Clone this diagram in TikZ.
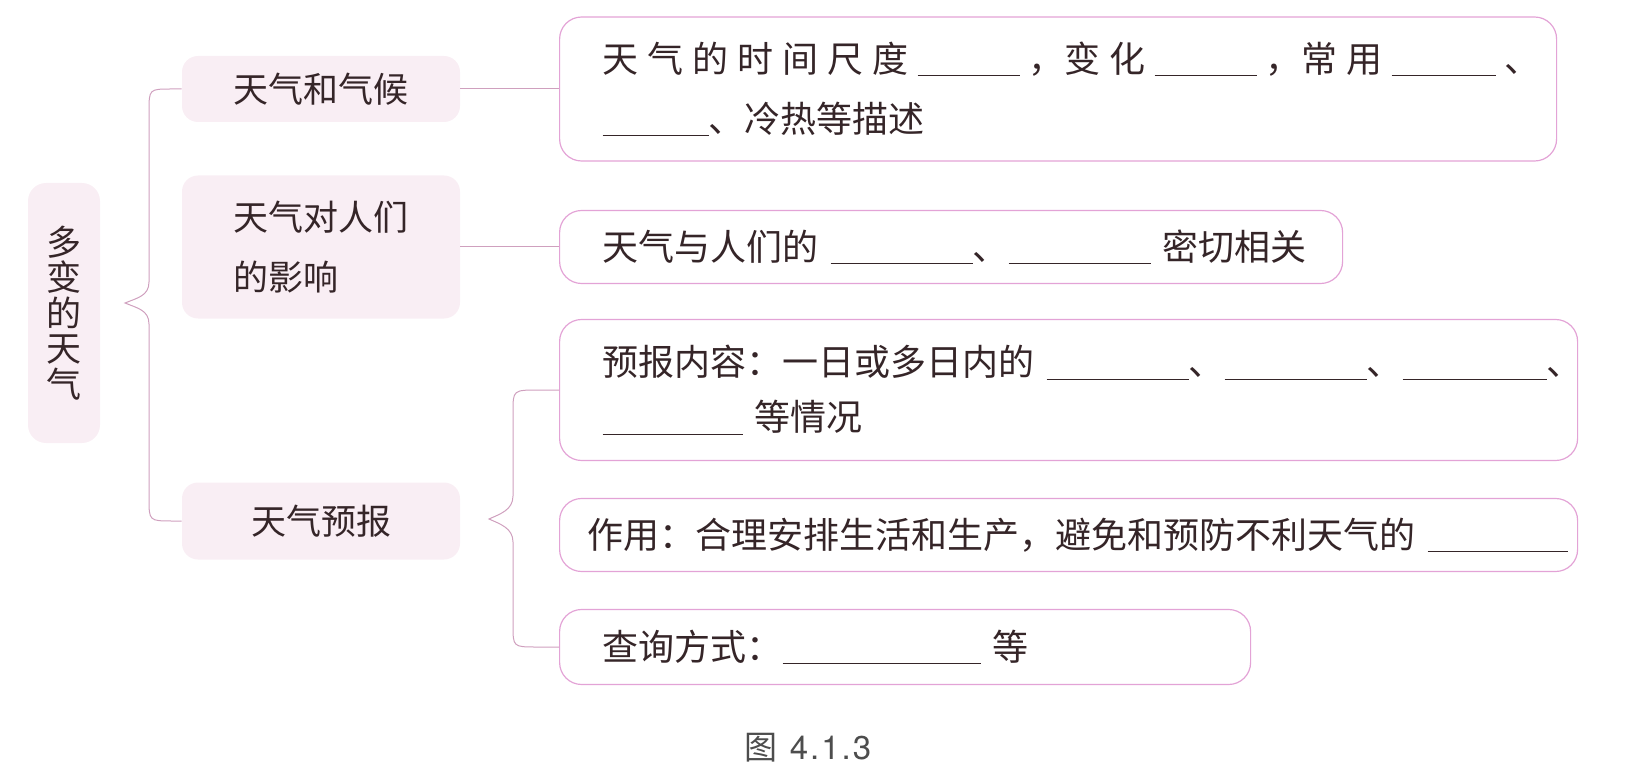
\documentclass[tikz,border=0pt]{standalone}
\usepackage{fontspec}
\setmainfont{Noto Sans CJK SC}
\newfontfamily\capdigits[LetterSpace=6]{TeX Gyre Heros}
\usepackage{tikz}
\definecolor{ink}{HTML}{352528}
\definecolor{rim}{HTML}{E3A3D6}
\definecolor{wirecol}{HTML}{CFA0BE}
\definecolor{shade}{HTML}{F9EEF4}
\definecolor{capgray}{HTML}{4D4D4D}
\newcommand\blank[1]{\rule[-2pt]{#1}{0.5pt}}
\tikzset{
  rootbox/.style={fill=shade, rounded corners=9pt, minimum width=36pt, minimum height=130pt, inner sep=0pt, align=center, text=ink, font=\fontsize{17.5pt}{17.7pt}\selectfont},
  topic/.style={fill=shade, rounded corners=8pt, minimum width=139pt, inner sep=0pt, align=left, text=ink, font=\fontsize{17.5pt}{30pt}\selectfont},
  leaf/.style={draw=rim, line width=0.6pt, rounded corners=11pt, anchor=west, inner xsep=21.5pt, inner ysep=0pt, align=left, text=ink, font=\fontsize{18pt}{29pt}\selectfont},
  wire/.style={draw=wirecol, line width=0.5pt},
  figcap/.style={text=capgray, font=\fontsize{16.5pt}{18pt}\selectfont},
}
\begin{document}
\begin{tikzpicture}[x=0.5pt,y=-0.5pt]
  \useasboundingbox (0,0) rectangle (1638,775);
  % root and topics
  \node[rootbox] (root) at (64,313) {多\\变\\的\\天\\气};
  \node[topic, minimum height=33pt] (t1) at (321,89) {天气和气候};
  \node[topic, minimum height=71.5pt] (t2) at (321,247) {天气对人们\\的影响};
  \node[topic, minimum height=38.5pt] (t3) at (321,521) {天气预报};
  % leaves
  \node[leaf, minimum height=72pt, text width=455.5pt, font=\fontsize{18pt}{30pt}\selectfont] (b1) at (559,89)
    {\mbox{\makebox[469pt][l]{天\hfill 气\hfill 的\hfill 时\hfill 间\hfill 尺\hfill 度\hfill\blank{51pt}\hfill ，变\hfill 化\hfill\blank{51pt}\hfill ，常\hfill 用\hfill\blank{52pt}\hfill 、}}\\
     \mbox{\blank{53pt}、冷热等描述}};
  \node[leaf, minimum height=36.5pt, text width=348.5pt] (b2) at (559,247)
    {\mbox{天气与人们的 \blank{71pt}、\blank{71pt} 密切相关}};
  \node[leaf, minimum height=70.5pt, text width=466pt, font=\fontsize{18pt}{27.5pt}\selectfont] (b3) at (559,390)
    {\mbox{预报内容：一日或多日内的 \blank{71pt}、\blank{71pt}、\blank{72pt}、}\\
     \mbox{\blank{70pt} 等情况}};
  \node[leaf, inner xsep=14pt, minimum height=36.5pt, text width=481pt] (b4) at (559,535)
    {\mbox{作用：合理安排生活和生产，避免和预防不利天气的 \blank{70pt}}};
  \node[leaf, minimum height=37.5pt, text width=302.5pt] (b5) at (559,647)
    {\mbox{查询方式：\blank{99pt} 等}};
  % links
  \draw[wire] (t1) -- (b1);
  \draw[wire] (t2) -- (b2);
  \coordinate (k1) at (125,303);
  \coordinate (k2) at (489,519);
  \draw[wire] (t1.west) -- ++(-10,0) .. controls (149,89) .. (149,112) -- (149,282)
    .. controls (149,296) and (137,298) .. (k1) .. controls (137,308) and (149,310) .. (149,324)
    -- (149,498) .. controls (149,521) .. (173,521) -- (t3.west);
  \draw[wire] (b3.west) -- ++(-20,0) .. controls (513,390) .. (513,412) -- (513,496)
    .. controls (513,510) and (500,514) .. (k2) .. controls (500,524) and (513,528) .. (513,542)
    -- (513,625) .. controls (513,647) .. (537,647) -- (b5.west);
  \node[figcap] (fig) at (808,748) {图\hspace{6pt}{\capdigits 4.1.3}};
\end{tikzpicture}
\end{document}
